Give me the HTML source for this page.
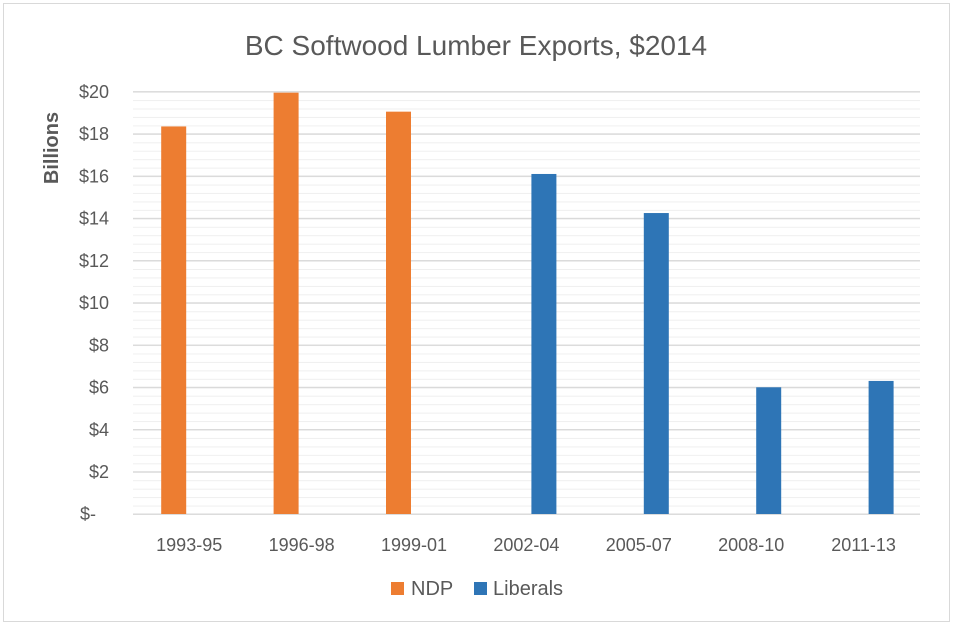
<!DOCTYPE html>
<html><head><style>body{margin:0;background:#fff}svg{display:block}text{font-family:"Liberation Sans",sans-serif;fill:#595959}</style></head>
<body>
<svg width="954" height="625" viewBox="0 0 954 625">
<defs>
<pattern id="minor" patternUnits="userSpaceOnUse" x="0" y="91.6" width="954" height="8.448"><line x1="0" x2="954" y1="0.5" y2="0.5" stroke="#efefef" stroke-width="1"/></pattern>
<pattern id="major" patternUnits="userSpaceOnUse" x="0" y="91.1" width="954" height="42.24"><line x1="0" x2="954" y1="0.7" y2="0.7" stroke="#d9d9d9" stroke-width="1.4"/></pattern>
</defs>
<rect x="3.5" y="3.5" width="946" height="618" fill="#fff" stroke="#d9d9d9"/>
<text x="476" y="55" font-size="28" text-anchor="middle">BC Softwood Lumber Exports, $2014</text>
<text transform="translate(58,148) rotate(-90)" font-size="20" font-weight="bold" text-anchor="middle">Billions</text>
<rect x="133" y="91" width="787" height="424" fill="url(#minor)"/>
<rect x="133" y="91" width="787" height="425" fill="url(#major)"/>
<g fill="#ed7d31">
<rect x="161.2" y="126.45" width="25" height="387.55"/>
<rect x="273.6" y="92.66" width="25" height="421.34"/>
<rect x="386" y="111.66" width="25" height="402.34"/>
</g>
<g fill="#2e75b6">
<rect x="531.4" y="173.97" width="25" height="340.03"/>
<rect x="643.8" y="213.04" width="25" height="300.96"/>
<rect x="756.2" y="387.28" width="25" height="126.72"/>
<rect x="868.6" y="380.94" width="25" height="133.06"/>
</g>
<g font-size="18" text-anchor="middle">
<text x="189.2" y="551">1993-95</text>
<text x="301.6" y="551">1996-98</text>
<text x="414" y="551">1999-01</text>
<text x="526.4" y="551">2002-04</text>
<text x="638.8" y="551">2005-07</text>
<text x="751.2" y="551">2008-10</text>
<text x="863.6" y="551">2011-13</text>
</g>
<g font-size="18" text-anchor="end">
<text x="109" y="98">$20</text>
<text x="109" y="140.2">$18</text>
<text x="109" y="182.5">$16</text>
<text x="109" y="224.7">$14</text>
<text x="109" y="267">$12</text>
<text x="109" y="309.2">$10</text>
<text x="109" y="351.4">$8</text>
<text x="109" y="393.7">$6</text>
<text x="109" y="435.9">$4</text>
<text x="109" y="478.2">$2</text>
<text x="80" y="520" text-anchor="start">$-</text>
</g>
<rect x="391" y="582" width="13" height="13" fill="#ed7d31"/>
<text x="411" y="595" font-size="20">NDP</text>
<rect x="474" y="582" width="13" height="13" fill="#2e75b6"/>
<text x="493" y="595" font-size="20">Liberals</text>
</svg>
</body></html>
